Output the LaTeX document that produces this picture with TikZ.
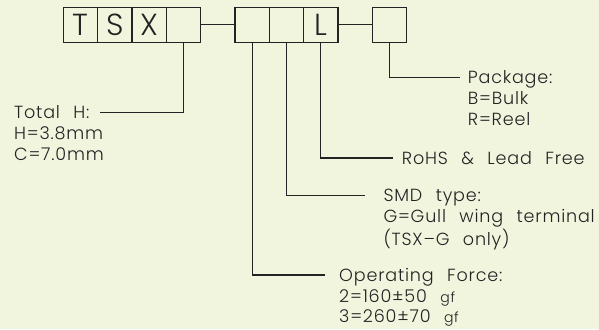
\documentclass[tikz,border=0pt]{standalone}
\usepackage{fontspec}
\IfFontExistsTF{Poppins Light}{\setmainfont{Poppins Light}[WordSpace=2.4, LetterSpace=4.5]}{\setmainfont{Poppins}[WordSpace=2.4, LetterSpace=4.5]}
\usetikzlibrary{positioning}
\definecolor{paper}{RGB}{242,245,222}
\definecolor{ink}{RGB}{35,35,35}
\newcommand{\lblfont}{\fontsize{15pt}{17.4pt}\selectfont}
\newcommand{\gfunit}{{\fontsize{12pt}{12pt}\selectfont gf}}

\begin{document}
\begin{tikzpicture}[
    x=0.03cm, y=-0.03cm,
    digit/.style={rectangle, draw=ink, line width=1.1pt, minimum width=1.03cm, minimum height=1.05cm, inner sep=0pt, outer sep=0pt, text=ink, font=\fontsize{26pt}{26pt}\selectfont},
    head/.style={anchor=west, inner sep=0pt, text height=10.5pt, text depth=0pt, text=ink, font=\lblfont},
    vals/.style={inner sep=0pt, align=left, text=ink, font=\lblfont},
    lead/.style={draw=ink, line width=0.9pt}
  ]
  \fill[paper] (0,0) rectangle (599,329);

  \node[digit] (boxT) at (80.4,24.8) {T};
  \node[digit, right=0pt of boxT] (boxS) {S};
  \node[digit, right=0pt of boxS] (boxX) {X};
  \node[digit, right=0pt of boxX] (boxH) {};
  \node[digit, right=1.03cm of boxH] (boxF) {};
  \node[digit, right=0pt of boxF] (boxG) {};
  \node[digit, right=0pt of boxG] (boxL) {L};
  \node[digit, right=1.03cm of boxL] (boxP) {};

  \draw[lead] (boxH) -- (boxF);
  \draw[lead] (boxL) -- (boxP);

  \node[head] (toth) at (14,112.5) {Total H:};
  \node[vals, below right=6.6pt and 0pt of toth.south west] (tothv) {H=3.8mm\\C=7.0mm};

  \node[head] (pkg) at (467.7,77.5) {Package:};
  \node[vals, below right=6.6pt and 0pt of pkg.south west] (pkgv) {B=Bulk\\R=Reel};

  \node[head] (rohs) at (401.7,158) {RoHS \& Lead Free};

  \node[head] (smd) at (383.3,195.3) {SMD type:};
  \node[vals, below right=6.6pt and 0pt of smd.south west] (smdv) {G=Gull wing terminal\\(TSX\textendash G only)};

  \node[head] (force) at (339,275) {Operating Force:};
  \node[vals, below right=6.6pt and 0pt of force.south west] (forcev) {2=160±50 \gfunit\\3=260±70 \gfunit};

  \draw[lead, shorten >=0.3cm] (boxH.south) |- (toth.east);
  \draw[lead, shorten >=0.23cm] (boxP.south) |- (pkg.west);
  \draw[lead, shorten >=0.26cm] (boxL.south) |- (rohs.west);
  \draw[lead, shorten >=0.55cm] (boxG.south) |- (smd.west);
  \draw[lead, shorten >=0.42cm] (boxF.south) |- (force.west);
\end{tikzpicture}
\end{document}
